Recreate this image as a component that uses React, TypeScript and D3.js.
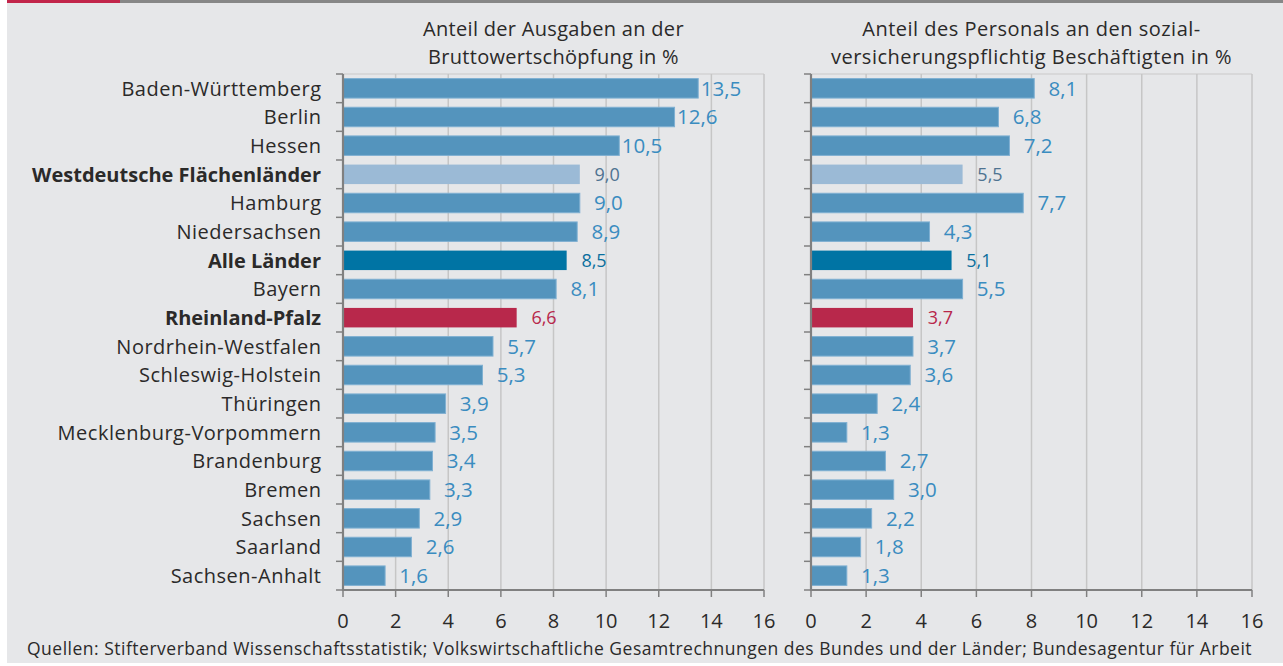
import * as React from 'react';
import * as d3 from 'd3';

const laender = [
  'Baden-Württemberg', 'Berlin', 'Hessen', 'Westdeutsche Flächenländer', 'Hamburg',
  'Niedersachsen', 'Alle Länder', 'Bayern', 'Rheinland-Pfalz', 'Nordrhein-Westfalen',
  'Schleswig-Holstein', 'Thüringen', 'Mecklenburg-Vorpommern', 'Brandenburg', 'Bremen',
  'Sachsen', 'Saarland', 'Sachsen-Anhalt',
];
const ausgaben = [13.5, 12.6, 10.5, 9.0, 9.0, 8.9, 8.5, 8.1, 6.6, 5.7, 5.3, 3.9, 3.5, 3.4, 3.3, 2.9, 2.6, 1.6];
const personal = [8.1, 6.8, 7.2, 5.5, 7.7, 4.3, 5.1, 5.5, 3.7, 3.7, 3.6, 2.4, 1.3, 2.7, 3.0, 2.2, 1.8, 1.3];
const xTicks = [0, 2, 4, 6, 8, 10, 12, 14, 16];
const titleLeft = ['Anteil der Ausgaben an der', 'Bruttowertschöpfung in %'];
const titleRight = ['Anteil des Personals an den sozial-', 'versicherungspflichtig Beschäftigten in %'];
const quelle = 'Quellen: Stifterverband Wissenschaftsstatistik; Volkswirtschaftliche Gesamtrechnungen des Bundes und der Länder; Bundesagentur für Arbeit';

const W = 1283;
const H = 666;
const FONT = '"Open Sans", sans-serif';
const TEXT = '#2b2a29';

const style: Record<string, { bar: string; label: string }> = {
  'Westdeutsche Flächenländer': { bar: '#9bbad6', label: '#4f7391' },
  'Alle Länder': { bar: '#0074a4', label: '#0a6f9e' },
  'Rheinland-Pfalz': { bar: '#b8284b', label: '#b8284b' },
};
const normal = { bar: '#5494bd', label: '#3a8cc0' };

const top = 74;
const bottom = 590;

const y = d3.scaleBand<string>().domain(laender).range([top, bottom]).paddingInner(0.32).paddingOuter(0.16);
const yStep = d3.scaleBand<string>().domain(laender).range([top, bottom]);
const fmt = (v: number) => d3.format('.1f')(v).replace('.', ',');

interface PanelProps {
  values: number[];
  x0: number;
  x1: number;
  title: string[];
  spacing: number;
}

const Panel: React.FC<PanelProps> = ({ values, x0, x1, title, spacing }) => {
  const x = d3.scaleLinear().domain([0, 16]).range([x0, x1]);
  const cx = (x0 + x1) / 2;
  return (
    <g>
      {title.map((t, i) => (
        <text key={i} x={cx} y={35.5 + i * 28.5} textAnchor="middle" fontSize={20}
          letterSpacing={spacing} fill={TEXT}>{t}</text>
      ))}
      <line x1={x0} x2={x1} y1={top} y2={top} stroke="#c9c9c9" strokeWidth={1.2} />
      {xTicks.filter(t => t > 0).map(t => (
        <line key={t} x1={x(t)} x2={x(t)} y1={top} y2={bottom} stroke="#c6c6c6" strokeWidth={1.5} />
      ))}
      {laender.map((l, i) => {
        const s = style[l] || normal;
        const v = values[i];
        const special = !!style[l];
        return (
          <g key={l}>
            <rect x={x(0)} y={y(l)} width={x(v) - x(0)} height={y.bandwidth()} fill={s.bar}
              stroke={special ? 'none' : '#7fb0d2'} strokeWidth={1} />
            <text x={x(v) + (special ? 40 : 43)} y={y(l)! + y.bandwidth() / 2} dy="0.36em" textAnchor="end"
              fontSize={special ? 18 : 20.5} fill={s.label}>{fmt(v)}</text>
          </g>
        );
      })}
      {laender.map(l => (
        <line key={'t' + l} x1={x0 - 7} x2={x0} y1={yStep(l)} y2={yStep(l)} stroke="#808080" strokeWidth={1.5} />
      ))}
      <line x1={x0 - 7} x2={x0} y1={bottom} y2={bottom} stroke="#808080" strokeWidth={1.5} />
      <line x1={x0} x2={x0} y1={top} y2={bottom + 1} stroke="#808080" strokeWidth={2.2} />
      <line x1={x0} x2={x1} y1={bottom} y2={bottom} stroke="#808080" strokeWidth={2.2} />
      {xTicks.map(t => (
        <g key={'x' + t}>
          <line x1={x(t)} x2={x(t)} y1={bottom} y2={bottom + 7} stroke="#808080" strokeWidth={1.5} />
          <text x={x(t)} y={628} textAnchor="middle" fontSize={20} fill={TEXT}>{t}</text>
        </g>
      ))}
    </g>
  );
};

const App: React.FC = () => {
  return (
    <svg width={W} height={H} style={{ position: 'absolute', left: 0, top: 0, fontFamily: FONT }}>
      <rect x={0} y={0} width={W} height={H} fill="#ffffff" />
      <rect x={7} y={0} width={W - 7} height={663} fill="#e6e7e9" />
      <rect x={7} y={0} width={W - 7} height={3} fill="#878787" />
      <rect x={7} y={0} width={113} height={3} fill="#c2254a" />
      {laender.map(l => {
        const bold = !!style[l];
        return (
          <text key={l} x={bold ? 321 : 321.5} y={yStep(l)! + yStep.bandwidth() / 2} dy="0.36em" textAnchor="end"
            fontSize={20} fontWeight={bold ? 700 : 400} letterSpacing={bold ? 0 : 0.5} fill={TEXT}>{l}</text>
        );
      })}
      <Panel values={ausgaben} x0={343} x1={764} title={titleLeft} spacing={0.3} />
      <Panel values={personal} x0={811} x1={1252} title={titleRight} spacing={0.5} />
      <text x={27} y={655} fontSize={17.5} letterSpacing={0.5} fill={TEXT}>{quelle}</text>
    </svg>
  );
};

export default App;
